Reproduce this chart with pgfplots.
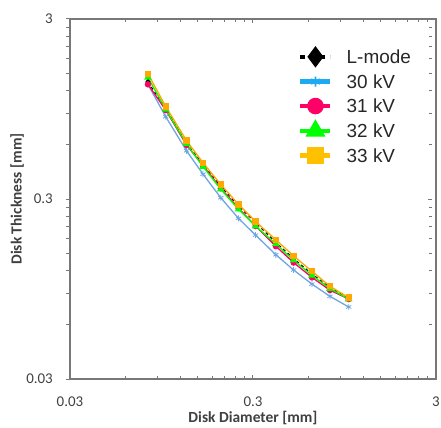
\documentclass[border=0pt]{standalone}
\usepackage{fontspec}
\setmainfont{Carlito}
\newfontfamily\legfont{Liberation Sans}
\usepackage{pgfplots}
\usepackage{pgfplotstable}
\pgfplotsset{compat=1.18}

\definecolor{frame}{RGB}{120,120,120}
\definecolor{txt}{RGB}{64,64,64}
\definecolor{c30}{RGB}{30,170,240}
\definecolor{c30p}{RGB}{110,165,228}
\definecolor{c31}{RGB}{255,0,102}
\definecolor{c32}{RGB}{0,255,0}
\definecolor{c33}{RGB}{255,192,0}
\definecolor{c33p}{RGB}{255,168,0}

% disk diameter [mm] vs disk thickness [mm]
\pgfplotstableread{
d     lmode  kvA    kvB    kvC    kvD
0.080 1.34   1.30   1.30   1.42   1.49
0.100 0.957  0.860  0.936  0.945  0.980
0.130 0.611  0.556  0.599  0.607  0.633
0.160 0.468  0.412  0.460  0.454  0.477
0.200 0.354  0.305  0.344  0.340  0.361
0.250 0.274  0.234  0.267  0.263  0.280
0.310 0.222  0.189  0.212  0.212  0.225
0.400 0.172  0.147  0.164  0.169  0.178
0.500 0.140  0.121  0.133  0.137  0.145
0.630 0.115  0.101  0.110  0.113  0.119
0.790 0.0967 0.0864 0.0935 0.0954 0.0983
1.000 0.0842 0.0754 0.0834 0.0834 0.0850
}\disk

\newcommand\legtext{\legfont\fontsize{19}{19}\selectfont}

\begin{document}
\begin{tikzpicture}
\path[use as bounding box] (-70bp,-49bp) rectangle (371bp,379bp);
\begin{axis}[
    scale only axis,
    width=366bp, height=360bp,
    xmode=log, ymode=log,
    xmin=0.03, xmax=3, ymin=0.03, ymax=3,
    xtick={0.03,0.3,3}, xticklabels={0.03,0.3,3},
    ytick={0.03,0.3,3}, yticklabels={0.03,0.3,3},
    minor xtick={}, minor ytick={},
    tick align=inside,
    major tick length=4bp,
    tick style={frame, line width=1bp},
    y tick style={xshift=-4bp},
    axis line style={frame, line width=1.2bp},
    ticklabel style={font=\fontsize{15}{15}\selectfont, text=txt, inner sep=0pt},
    xticklabel style={yshift=-18bp},
    yticklabel style={xshift=-17bp},
    xlabel={\textbf{Disk Diameter [mm]}},
    ylabel={\textbf{Disk Thickness [mm]}},
    label style={font=\fontsize{15.5}{15.5}\selectfont, text=txt, inner sep=0pt},
    xlabel style={at={(axis description cs:0.5,-0.1222)}, anchor=base},
    ylabel style={at={(axis description cs:-0.1320,0.5)}, anchor=base},
    legend image code/.code={\draw[mark repeat=2,mark phase=2,#1] plot coordinates {(0bp,0bp) (15bp,0bp) (30bp,0bp)};},
    legend style={draw=none, fill=none, inner sep=0pt, at={(axis description cs:0.623,0.9150)}, anchor=north west,
        font=\legtext, text=black!85, row sep=11bp,
        nodes={inner sep=0pt, text height=13.5bp, text depth=0bp, font=\legtext}},
    legend cell align=left,
    /tikz/every odd column/.append style={column sep=14bp},
]

% legend entries
\addlegendimage{black, line width=4.5bp, dash pattern=on 5bp off 5bp, mark=diamond*, mark size=7bp, mark options={solid}}
\addlegendentry{L-mode}
\addlegendimage{c30, line width=4.5bp, mark=asterisk, mark size=5bp, mark options={line width=1.6bp}}
\addlegendentry{30 kV}
\addlegendimage{c31, line width=4.5bp, mark=*, mark size=6bp}
\addlegendentry{31 kV}
\addlegendimage{c32, line width=4.5bp, mark=triangle*, mark size=7bp}
\addlegendentry{32 kV}
\addlegendimage{c33, line width=4.5bp, mark=square*, mark size=6bp}
\addlegendentry{33 kV}

% data
\addplot[forget plot, black, line width=1.1bp, dash pattern=on 3bp off 3bp, mark=diamond*, mark size=2.6bp, mark options={solid}] table[x=d, y=lmode] {\disk};
\addplot[forget plot, c30p, line width=1.3bp, mark=asterisk, mark size=3bp, mark options={line width=0.8bp}] table[x=d, y=kvA] {\disk};
\addplot[forget plot, c31, line width=1.3bp, mark=*, mark size=2.5bp] table[x=d, y=kvB] {\disk};
\addplot[forget plot, c32, line width=1.3bp, mark=triangle*, mark size=3.1bp] table[x=d, y=kvC] {\disk};
\addplot[forget plot, c33p, line width=1.3bp, mark=square*, mark size=2.5bp] table[x=d, y=kvD] {\disk};

\end{axis}
\end{tikzpicture}
\end{document}
